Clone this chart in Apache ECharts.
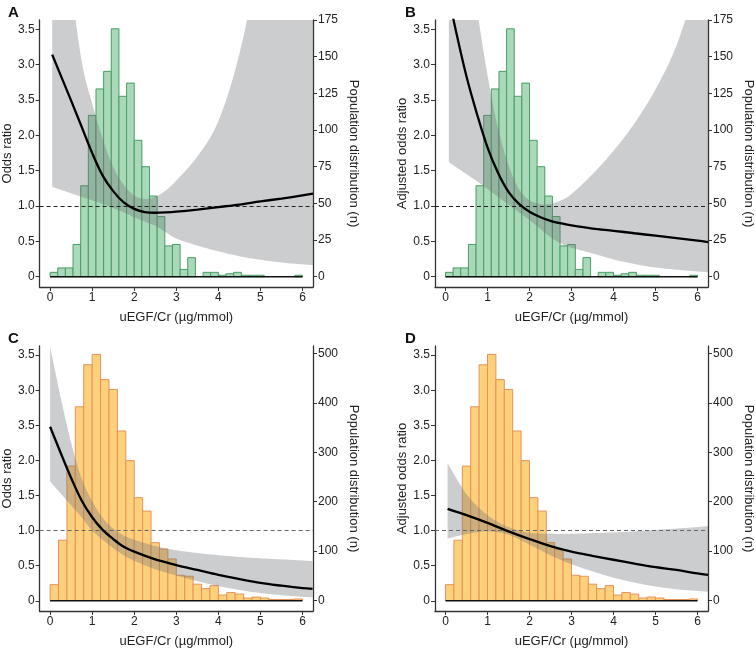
<!DOCTYPE html>
<html>
<head>
<meta charset="utf-8">
<script src="https://cdn.jsdelivr.net/npm/echarts@6/dist/echarts.min.js"></script>
<style>
  html, body { margin: 0; padding: 0; background: #fff; }
  #chart { width: 756px; height: 649px; }
</style>
</head>
<body>
<div id="chart"></div>
<script>
// tick labels (the original figure prints 2.5 as "3.5")
const oddsTickValues = [0, 0.5, 1, 1.5, 2, 2.5, 3, 3.5];
const oddsTickLabels = ['0', '0.5', '1.0', '1.5', '2.0', '3.5', '3.0', '3.5'];
const xTickValues = [0, 1, 2, 3, 4, 5, 6];
const popTicksTop = [0, 25, 50, 75, 100, 125, 150, 175];
const popTicksBottom = [0, 100, 200, 300, 400, 500];

// histogram counts (top row: 33 bins over 0-6, bottom row: 30 bins of 0.2)
const greenCounts = [3, 6, 6, 22, 62, 110, 128, 140, 169, 123, 132, 93, 75, 55, 41, 21, 22, 5, 13, 0, 3, 3, 1, 2, 3, 1, 1, 1, 0, 0, 0, 0, 1];
const orangeCounts = [32, 122, 272, 392, 477, 498, 447, 427, 343, 283, 208, 181, 117, 104, 84, 51, 49, 33, 24, 30, 11, 16, 13, 5, 7, 5, 2, 2, 2, 3];

// panel A
const xA = [0.05, 0.25, 0.5, 0.75, 1.0, 1.25, 1.5, 1.75, 2.0, 2.25, 2.5, 2.75, 3.0, 3.5, 4.0, 4.5, 5.0, 5.5, 6.0, 6.25];
const orA = [3.14, 2.85, 2.49, 2.12, 1.75, 1.43, 1.21, 1.05, 0.96, 0.915, 0.905, 0.91, 0.92, 0.95, 0.985, 1.02, 1.065, 1.105, 1.15, 1.175];
const loA = [1.27, 1.23, 1.18, 1.13, 1.08, 1.03, 0.97, 0.91, 0.84, 0.78, 0.72, 0.63, 0.54, 0.44, 0.36, 0.29, 0.24, 0.20, 0.175, 0.165];
const hiA = [9.0, 6.0, 4.2, 3.05, 2.45, 1.95, 1.55, 1.3, 1.15, 1.1, 1.13, 1.22, 1.36, 1.7, 2.2, 3.15, 4.6, 6.3, 8.4, 9.6];

// panel B
const xB = [0.08, 0.25, 0.5, 0.75, 1.0, 1.25, 1.5, 1.75, 2.0, 2.25, 2.5, 2.75, 3.0, 3.5, 4.0, 4.5, 5.0, 5.5, 6.0, 6.25];
const orB = [3.95, 3.47, 2.83, 2.3, 1.83, 1.47, 1.2, 1.03, 0.92, 0.845, 0.79, 0.755, 0.725, 0.68, 0.65, 0.615, 0.58, 0.545, 0.51, 0.49];
const loB = [1.62, 1.55, 1.45, 1.35, 1.24, 1.13, 1.02, 0.91, 0.80, 0.68, 0.56, 0.47, 0.41, 0.33, 0.245, 0.18, 0.13, 0.10, 0.075, 0.065];
const hiB = [10, 7.3, 5.0, 3.8, 2.85, 2.1, 1.58, 1.24, 1.08, 1.03, 1.03, 1.08, 1.17, 1.45, 1.78, 2.17, 2.65, 3.27, 4.2, 4.8];

// panel C
const xC = [0, 0.25, 0.5, 0.75, 1.0, 1.25, 1.5, 1.75, 2.0, 2.5, 3.0, 3.5, 4.0, 4.5, 5.0, 5.5, 6.0, 6.24];
const orC = [2.48, 2.11, 1.75, 1.43, 1.19, 1.01, 0.88, 0.77, 0.70, 0.59, 0.51, 0.44, 0.37, 0.31, 0.255, 0.215, 0.18, 0.17];
const loC = [1.70, 1.53, 1.36, 1.19, 1.00, 0.87, 0.75, 0.65, 0.57, 0.45, 0.36, 0.28, 0.21, 0.155, 0.11, 0.08, 0.057, 0.05];
const hiC = [3.62, 2.90, 2.25, 1.74, 1.42, 1.18, 1.03, 0.93, 0.87, 0.78, 0.72, 0.68, 0.65, 0.625, 0.605, 0.59, 0.575, 0.565];

// panel D
const xD = [0.05, 0.5, 1.0, 1.5, 2.0, 2.5, 3.0, 3.5, 4.0, 4.5, 5.0, 5.5, 6.0, 6.25];
const orD = [1.31, 1.22, 1.11, 0.99, 0.88, 0.78, 0.70, 0.64, 0.585, 0.53, 0.48, 0.44, 0.39, 0.37];
const loD = [0.886, 0.95, 0.99, 0.94, 0.80, 0.65, 0.52, 0.42, 0.33, 0.26, 0.205, 0.165, 0.14, 0.13];
const hiD = [1.96, 1.52, 1.22, 1.05, 0.97, 0.955, 0.955, 0.965, 0.975, 0.99, 1.01, 1.03, 1.05, 1.065];

const font = 'Liberation Sans, Arial, sans-serif';
const axisColor = '#333';
const textColor = '#222';

const panels = [
  { letter: 'A', left: 38, top: 20, yName: 'Odds ratio', x: xA, or: orA, lo: loA, hi: hiA,
    counts: greenCounts, binW: 6 / 33, popMax: 175, popMin: -7, popTicks: popTicksTop,
    fill: '#a9d9b8', stroke: '#4a9c64', dash: '#222' },
  { letter: 'B', left: 435, top: 20, yName: 'Adjusted odds ratio', x: xB, or: orB, lo: loB, hi: hiB,
    counts: greenCounts, binW: 6 / 33, popMax: 175, popMin: -7, popTicks: popTicksTop,
    fill: '#a9d9b8', stroke: '#4a9c64', dash: '#222' },
  { letter: 'C', left: 38, top: 346, yName: 'Odds ratio', x: xC, or: orC, lo: loC, hi: hiC,
    counts: orangeCounts, binW: 0.2, popMax: 515, popMin: -21.3, popTicks: popTicksBottom,
    fill: '#fdd07c', stroke: '#e8925a', dash: '#666' },
  { letter: 'D', left: 435, top: 346, yName: 'Adjusted odds ratio', x: xD, or: orD, lo: loD, hi: hiD,
    counts: orangeCounts, binW: 0.2, popMax: 515, popMin: -21.3, popTicks: popTicksBottom,
    fill: '#fdd07c', stroke: '#e8925a', dash: '#666' }
];

// Catmull-Rom smoothing of pixel points (drawing only)
function smoothPts(pts) {
  const out = [];
  for (let i = 0; i < pts.length - 1; i++) {
    const p0 = pts[Math.max(i - 1, 0)], p1 = pts[i], p2 = pts[i + 1], p3 = pts[Math.min(i + 2, pts.length - 1)];
    for (let s = 0; s < 10; s++) {
      const t = s / 10, t2 = t * t, t3 = t2 * t;
      out.push([0, 1].map(d => 0.5 * (2 * p1[d] + (-p0[d] + p2[d]) * t +
        (2 * p0[d] - 5 * p1[d] + 4 * p2[d] - p3[d]) * t2 + (-p0[d] + 3 * p1[d] - 3 * p2[d] + p3[d]) * t3)));
    }
  }
  out.push(pts[pts.length - 1]);
  return out;
}

const grid = [], xAxis = [], yAxis = [], series = [], title = [];

panels.forEach((p, i) => {
  grid.push({ left: p.left, top: p.top, width: 275, height: 267 });
  title.push({ text: p.letter, left: p.left - 35, top: p.top - 20,
    textStyle: { fontSize: 15, fontWeight: 'bold', color: '#111', fontFamily: font } });

  xAxis.push({
    type: 'value', gridIndex: i, min: -0.25, max: 6.25,
    name: 'uEGF/Cr (µg/mmol)', nameLocation: 'middle', nameGap: 24,
    nameTextStyle: { fontSize: 13, color: textColor, fontFamily: font },
    axisLine: { onZero: false, lineStyle: { color: axisColor, width: 1.3 } },
    axisTick: { customValues: xTickValues, length: 4, lineStyle: { color: axisColor } },
    axisLabel: { customValues: xTickValues, fontSize: 12, color: textColor, fontFamily: font, margin: 5 },
    splitLine: { show: false }
  });

  yAxis.push({
    type: 'value', gridIndex: i, min: -0.145, max: 3.63, position: 'left',
    name: p.yName, nameLocation: 'middle', nameGap: 25, nameRotate: 90,
    nameTextStyle: { fontSize: 13, color: textColor, fontFamily: font },
    axisLine: { show: true, onZero: false, lineStyle: { color: axisColor, width: 1.3 } },
    axisTick: { show: true, customValues: oddsTickValues, length: 4, lineStyle: { color: axisColor } },
    axisLabel: { customValues: oddsTickValues, fontSize: 12, color: textColor, fontFamily: font, margin: 5,
      formatter: v => oddsTickLabels[Math.round(v * 2)] },
    splitLine: { show: false }
  });

  yAxis.push({
    type: 'value', gridIndex: i, min: p.popMin, max: p.popMax, position: 'right',
    name: 'Population distribution (n)', nameLocation: 'middle', nameGap: 34, nameRotate: -90,
    nameTextStyle: { fontSize: 13, color: textColor, fontFamily: font },
    axisLine: { show: true, onZero: false, lineStyle: { color: axisColor, width: 1.3 } },
    axisTick: { show: true, customValues: p.popTicks, length: 4, lineStyle: { color: axisColor } },
    axisLabel: { customValues: p.popTicks, fontSize: 12, color: textColor, fontFamily: font, margin: 5 },
    splitLine: { show: false }
  });

  const yl = 2 * i, yr = 2 * i + 1;

  // reference line at OR = 1 (behind the bars)
  series.push({
    type: 'line', xAxisIndex: i, yAxisIndex: yl, data: [], z: 1,
    markLine: { silent: true, symbol: 'none', label: { show: false },
      lineStyle: { type: [4, 3], color: p.dash, width: 1 }, data: [{ yAxis: 1 }] }
  });

  // histogram
  const bins = p.counts.map((n, k) => [k * p.binW, (k + 1) * p.binW, n]).filter(d => d[2] > 0);
  const fill = p.fill, stroke = p.stroke;
  series.push({
    type: 'custom', xAxisIndex: i, yAxisIndex: yr, z: 2,
    data: bins, encode: { x: [0, 1], y: 2 },
    renderItem: (params, api) => {
      const a = api.coord([api.value(0), api.value(2)]);
      const b = api.coord([api.value(1), 0]);
      return { type: 'rect', shape: { x: a[0], y: a[1], width: b[0] - a[0], height: b[1] - a[1] },
        style: { fill: fill, stroke: stroke, lineWidth: 1 } };
    }
  });

  // confidence band as one polygon (upper edge, then lower edge back)
  const band = p.x.map((x, k) => [x, p.lo[k], p.hi[k]]);
  series.push({
    type: 'custom', xAxisIndex: i, yAxisIndex: yl, z: 3, clip: true,
    data: [band[0]], encode: { x: 0, y: [1, 2] },
    renderItem: (params, api) => {
      const up = smoothPts(band.map(d => api.coord([d[0], d[2]])));
      const dn = smoothPts(band.map(d => api.coord([d[0], d[1]])));
      return { type: 'polygon', shape: { points: up.concat(dn.reverse()) },
        style: { fill: 'rgba(110,112,118,0.35)' } };
    }
  });

  // baseline at zero
  series.push({
    type: 'line', xAxisIndex: i, yAxisIndex: yl, z: 4, symbol: 'none',
    data: [[0, 0], [6, 0]], lineStyle: { color: '#111', width: 1.6 }
  });

  // odds ratio curve
  series.push({
    type: 'line', xAxisIndex: i, yAxisIndex: yl, z: 5, symbol: 'none', smooth: 0.35,
    data: p.x.map((x, k) => [x, p.or[k]]), lineStyle: { color: '#000', width: 2.3 }
  });
});

const chart = echarts.init(document.getElementById('chart'), null, { renderer: 'canvas' });
chart.setOption({
  animation: false,
  backgroundColor: '#fff',
  title: title,
  grid: grid,
  xAxis: xAxis,
  yAxis: yAxis,
  series: series
});
</script>
</body>
</html>
